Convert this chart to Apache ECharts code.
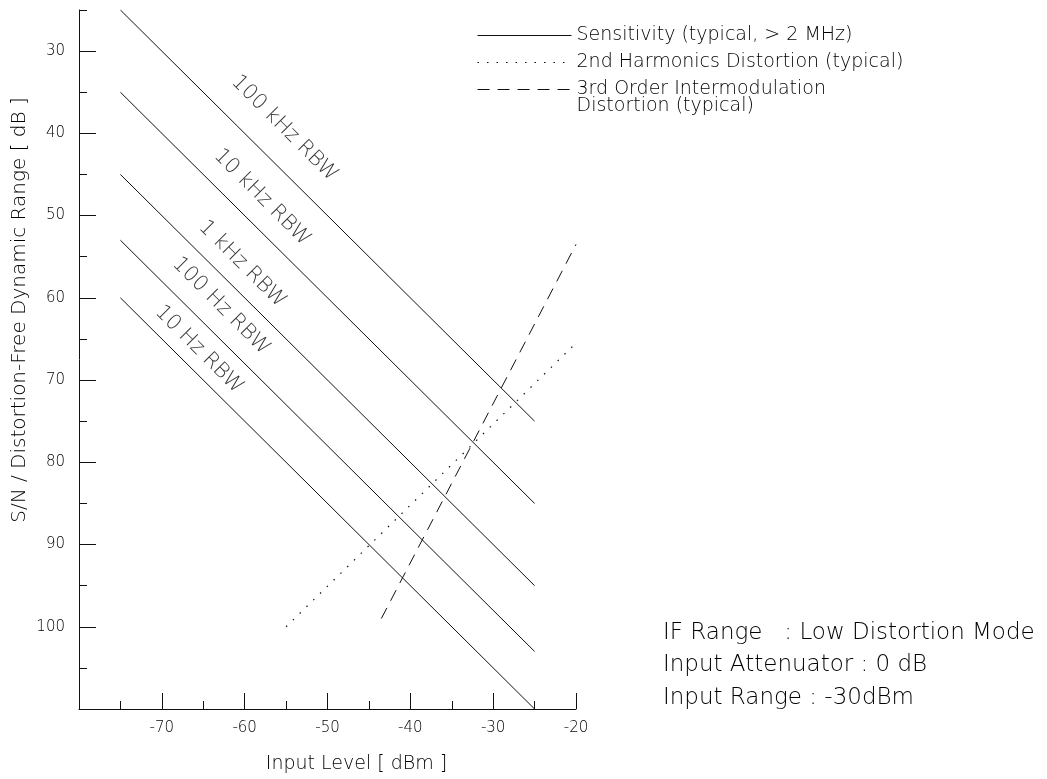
<!DOCTYPE html>
<html>
<head>
<meta charset="utf-8">
<script src="https://cdn.jsdelivr.net/npm/echarts@6/dist/echarts.min.js"></script>
<style>
html,body{margin:0;padding:0;background:#fff;}
#chart{width:1047px;height:779px;}
</style>
</head>
<body>
<div id="chart"></div>
<script>
// ---- data ----
const xTicks = [-70, -60, -50, -40, -30, -20];
const xMinorTicks = [-75, -65, -55, -45, -35, -25];
const yTicks = [30, 40, 50, 60, 70, 80, 90, 100];
const yMinorTicks = [25, 35, 45, 55, 65, 75, 85, 95, 105];

const rbwNames = ['100 kHz RBW', '10 kHz RBW', '1 kHz RBW', '100 Hz RBW', '10 Hz RBW'];
const sensitivityX = [-75, -25];
const sens100kHz = [25, 75];
const sens10kHz = [35, 85];
const sens1kHz = [45, 95];
const sens100Hz = [53, 103];
const sens10Hz = [60, 110];

const harm2X = [-55, -20];
const harm2Y = [100, 65.5];
const imd3X = [-43.5, -20];
const imd3Y = [99, 53.5];

// label anchor points (data coordinates) for the RBW captions
const rbwLabelX = [-55.2, -57.9, -60.3, -62.85, -65.5];
const rbwLabelY = [39.4, 47.8, 55.9, 61.0, 66.3];

const legendNames = ['Sensitivity (typical, > 2 MHz)', '2nd Harmonics Distortion (typical)', '3rd Order Intermodulation\nDistortion (typical)'];
const noteLines = ['IF Range   : Low Distortion Mode', 'Input Attenuator : 0 dB', 'Input Range : -30dBm'];

// ---- chart ----
const FONT = 'DejaVu Sans';
const WEIGHT = 200;
const INK = '#000';
const sensSets = [sens100kHz, sens10kHz, sens1kHz, sens100Hz, sens10Hz];

const zip = (xs, ys) => xs.map((x, i) => [x, ys[i]]);

const series = [];
sensSets.forEach((ys) => {
  series.push({
    name: legendNames[0], type: 'line', data: zip(sensitivityX, ys),
    symbol: 'none', showSymbol: false, silent: true,
    lineStyle: { color: '#111', width: 1, type: 'solid' }, itemStyle: { color: '#111' }
  });
});
series.push({
  name: legendNames[1], type: 'line', data: zip(harm2X, harm2Y),
  symbol: 'none', showSymbol: false, silent: true,
  lineStyle: { color: '#111', width: 1.2, type: [1.5, 8] }, itemStyle: { color: '#111' }
});
series.push({
  name: legendNames[2], type: 'line', data: zip(imd3X, imd3Y),
  symbol: 'none', showSymbol: false, silent: true,
  lineStyle: { color: '#111', width: 1, type: [12, 8] }, itemStyle: { color: '#111' }
});
series.push({
  name: 'RBW labels', type: 'scatter', symbolSize: 0, silent: true,
  data: rbwNames.map((n, i) => ({ name: n, value: [rbwLabelX[i], rbwLabelY[i]] })),
  label: {
    show: true, position: 'inside', rotate: -45, formatter: (p) => p.name,
    fontFamily: FONT, fontWeight: WEIGHT, fontSize: 21, color: INK, align: 'center', verticalAlign: 'middle'
  }
});

const axisCommonLine = { show: true, lineStyle: { color: '#111', width: 1 } };
const legendBase = {
  orient: 'vertical', left: 477, itemWidth: 94, itemHeight: 10, padding: 0,
  selectedMode: false,
  itemStyle: { opacity: 0 },
  lineStyle: { width: 1 },
  textStyle: { fontFamily: FONT, fontWeight: WEIGHT, fontSize: 19, color: INK }
};

const option = {
  backgroundColor: '#fff',
  animation: false,
  grid: { left: 79, right: 471, top: 10, bottom: 64, containLabel: false },
  legend: [
    Object.assign({}, legendBase, {
      data: [legendNames[0], legendNames[1]], top: 26, itemGap: 8
    }),
    Object.assign({}, legendBase, {
      data: [legendNames[2]], top: 63,
      formatter: (name) => '\n' + name,
      textStyle: { fontFamily: FONT, fontWeight: WEIGHT, fontSize: 19, color: INK, lineHeight: 17 }
    })
  ],
  xAxis: [
    {
      type: 'value', min: -80, max: -20, position: 'bottom',
      name: 'Input Level [ dBm ]', nameLocation: 'middle', nameGap: 46,
      nameTextStyle: { fontFamily: FONT, fontWeight: WEIGHT, fontSize: 19, color: INK, padding: [0, 0, 0, 58] },
      axisLine: axisCommonLine,
      axisTick: { show: true, inside: true, length: 16, customValues: xTicks, lineStyle: { color: '#111' } },
      axisLabel: { customValues: xTicks, margin: 12, fontFamily: FONT, fontWeight: WEIGHT, fontSize: 15, color: INK },
      splitLine: { show: false }
    },
    {
      type: 'value', min: -80, max: -20, position: 'bottom',
      axisLine: { show: false },
      axisTick: { show: true, inside: true, length: 8, customValues: xMinorTicks, lineStyle: { color: '#111' } },
      axisLabel: { show: false },
      splitLine: { show: false }
    }
  ],
  yAxis: [
    {
      type: 'value', inverse: true, min: 25, max: 110, position: 'left',
      name: 'S/N / Distortion-Free Dynamic Range [ dB ]', nameLocation: 'middle', nameGap: 49,
      nameTextStyle: { fontFamily: FONT, fontWeight: WEIGHT, fontSize: 20, color: INK, padding: [0, 0, 0, 99] },
      axisLine: axisCommonLine,
      axisTick: { show: true, inside: true, length: 17, customValues: yTicks, lineStyle: { color: '#111' } },
      axisLabel: { customValues: yTicks, margin: 14, fontFamily: FONT, fontWeight: WEIGHT, fontSize: 15, color: INK },
      splitLine: { show: false }
    },
    {
      type: 'value', inverse: true, min: 25, max: 110, position: 'left',
      axisLine: { show: false },
      axisTick: { show: true, inside: true, length: 8, customValues: yMinorTicks, lineStyle: { color: '#111' } },
      axisLabel: { show: false },
      splitLine: { show: false }
    }
  ],
  graphic: noteLines.map((t, i) => ({
    type: 'text', x: 663, y: 633 + i * 32.5, silent: true,
    style: { text: t, fontFamily: FONT, fontWeight: WEIGHT, fontSize: 23, fill: INK, verticalAlign: 'middle', align: 'left' }
  })),
  series: series
};

const chart = echarts.init(document.getElementById('chart'), null, { renderer: 'canvas' });
chart.setOption(option);
</script>
</body>
</html>
